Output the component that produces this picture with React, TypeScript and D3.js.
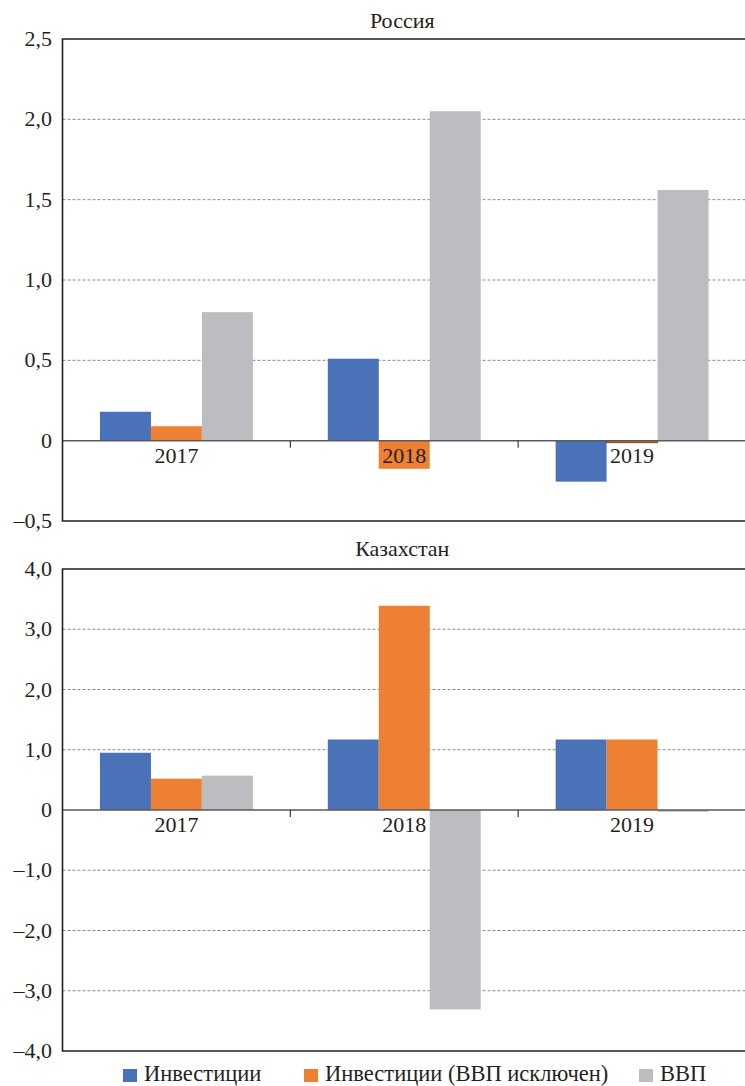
import React from "react";
import * as d3 from "d3";

const categories = ["2017", "2018", "2019"];
const seriesNames = ["Инвестиции", "Инвестиции (ВВП исключен)", "ВВП"];
const seriesColors = ["#4a72b8", "#ee8034", "#bcbdc1"];

const russiaInvest = [0.18, 0.51, -0.255];
const russiaInvestExGdp = [0.09, -0.175, -0.012];
const russiaGdp = [0.8, 2.05, 1.56];

const kazInvest = [0.95, 1.17, 1.17];
const kazInvestExGdp = [0.52, 3.39, 1.17];
const kazGdp = [0.57, -3.31, -0.03];

const russiaTicks = [-0.5, 0, 0.5, 1, 1.5, 2, 2.5];
const kazTicks = [-4, -3, -2, -1, 0, 1, 2, 3, 4];

const W = 745;
const H = 1086;

const fmt = (v: number) => {
  if (v === 0) return "0";
  const s = Math.abs(v).toFixed(1).replace(".", ",");
  return v < 0 ? "–" + s : s;
};

type PanelProps = {
  title: string;
  titleY: number;
  domain: [number, number];
  top: number;
  bottom: number;
  ticks: number[];
  series: number[][];
};

const txt = { fontFamily: "Liberation Serif" };

const Panel = ({ title, titleY, domain, top, bottom, ticks, series }: PanelProps) => {
  const left = 62.5;
  const right = 746;
  const x0 = d3.scaleBand<string>().domain(categories).range([left, right]).paddingInner(0).paddingOuter(0);
  const x1 = d3
    .scaleBand<string>()
    .domain(seriesNames)
    .range([0, x0.bandwidth()])
    .paddingInner(0)
    .paddingOuter(0.735);
  const y = d3.scaleLinear().domain(domain).range([bottom, top]);
  const y0 = y(0);
  return (
    <g>
      <text x={(left + right) / 2 - 2} y={titleY} textAnchor="middle" fontSize={22} fill="#231f20" style={txt}>
        {title}
      </text>
      {ticks
        .filter((t) => t !== 0 && t !== domain[0] && t !== domain[1])
        .map((t) => (
          <line
            key={"g" + t}
            x1={left}
            x2={right}
            y1={y(t)}
            y2={y(t)}
            stroke="#8a8a8a"
            strokeWidth={1}
            strokeDasharray="3,2"
          />
        ))}
      {categories.map((c, ci) =>
        seriesNames.map((s, si) => {
          const v = series[si][ci];
          const yy = y(Math.max(0, v));
          const hh = Math.abs(y(v) - y0);
          return (
            <rect
              key={c + s}
              x={(x0(c) as number) + (x1(s) as number)}
              y={yy}
              width={x1.bandwidth()}
              height={Math.max(hh, 1.5)}
              fill={seriesColors[si]}
              stroke={si === 1 && Math.abs(v) < 0.05 ? "#9b3a10" : "none"}
              strokeWidth={si === 1 && Math.abs(v) < 0.05 ? 1 : 0}
            />
          );
        })
      )}
      <line x1={left} x2={right} y1={y0} y2={y0} stroke="#5a5a5a" strokeWidth={1.5} />
      {categories.slice(1).map((c) => (
        <line
          key={"t" + c}
          x1={x0(c) as number}
          x2={x0(c) as number}
          y1={y0}
          y2={y0 + 7}
          stroke="#3a3a3a"
          strokeWidth={1.2}
        />
      ))}
      {categories.map((c) => (
        <text
          key={"l" + c}
          x={(x0(c) as number) + x0.bandwidth() / 2}
          y={y0 + 22}
          textAnchor="middle"
          fontSize={22}
          fill="#231f20"
          style={txt}
        >
          {c}
        </text>
      ))}
      <path
        d={`M${right},${y(domain[1])}H${left}V${y(domain[0])}H${right}`}
        fill="none"
        stroke="#231f20"
        strokeWidth={1.6}
      />
      {ticks.map((t) => (
        <text key={"y" + t} x={52} y={y(t) + 7} textAnchor="end" fontSize={22} fill="#231f20" style={txt}>
          {fmt(t)}
        </text>
      ))}
    </g>
  );
};

const legendX = [123, 304, 639];

export default function App() {
  return (
    <svg width={W} height={H} style={{ position: "absolute", left: 0, top: 0, background: "#fff" }}>
      <rect x={0} y={0} width={W} height={H} fill="#fff" />
      <Panel
        title="Россия"
        titleY={28}
        domain={[-0.5, 2.5]}
        top={39}
        bottom={521}
        ticks={russiaTicks}
        series={[russiaInvest, russiaInvestExGdp, russiaGdp]}
      />
      <Panel
        title="Казахстан"
        titleY={556}
        domain={[-4, 4]}
        top={569}
        bottom={1051}
        ticks={kazTicks}
        series={[kazInvest, kazInvestExGdp, kazGdp]}
      />
      {seriesNames.map((s, i) => (
        <g key={"lg" + s}>
          <rect x={legendX[i]} y={1069} width={14} height={13} fill={seriesColors[i]} />
          <text x={legendX[i] + 21} y={1081} fontSize={22.5} fill="#231f20" style={txt}>
            {s}
          </text>
        </g>
      ))}
    </svg>
  );
}
